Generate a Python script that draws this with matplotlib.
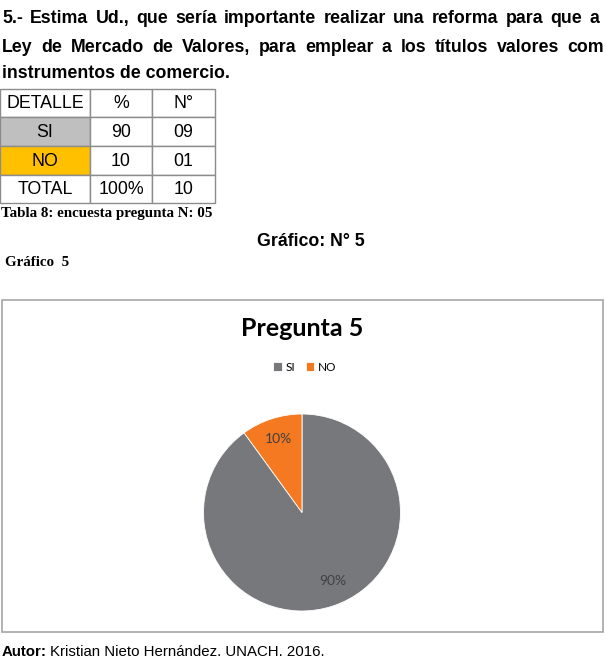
"""
Recreates the 'Pregunta 5' survey page: question text, summary table
and the Excel-style pie chart, drawn on one 606x659 figure.
"""
import matplotlib
matplotlib.use("Agg")
import matplotlib.pyplot as plt
from matplotlib.patches import Rectangle

W, H = 606, 659

# ---- data -------------------------------------------------------------
question_lines = [
    "5.- Estima Ud., que sería importante realizar una reforma para que a",
    "Ley de Mercado de Valores, para emplear a los títulos valores com",
    "instrumentos de comercio.",
]
table_header = ["DETALLE", "%", "N°"]
table_rows = [
    ["SI", "90", "09"],
    ["NO", "10", "01"],
    ["TOTAL", "100%", "10"],
]
row_fill = ["#bfbfbf", "#ffc000", "white"]

categories = ["SI", "NO"]
values = [90, 10]
slice_colors = ["#77787b", "#f47920"]

SANS = "Liberation Sans"
SERIF = "Liberation Serif"
CHART = "Lato"

fig = plt.figure(figsize=(W / 100, H / 100), dpi=100)
fig.patch.set_facecolor("white")

# full-figure overlay in pixel coordinates (y grows downward)
ax = fig.add_axes([0, 0, 1, 1])
ax.set_xlim(0, W)
ax.set_ylim(H, 0)
ax.axis("off")

renderer = fig.canvas.get_renderer()


def place_words(words, y, x_start, x_end, **kw):
    """Lay out words justified between x_start and x_end (end of last word)."""
    items = [ax.text(0, y, w, va="baseline", ha="left", **kw) for w in words]
    widths = [t.get_window_extent(renderer).width for t in items]
    gap = (x_end - x_start - sum(widths)) / (len(words) - 1)
    x = x_start
    for t, w in zip(items, widths):
        t.set_x(x)
        x += w + gap


body = dict(family=SANS, fontsize=12.8, fontweight="bold", color="black")
# justified lines, baselines
place_words(question_lines[0].split(), 23, 2, 599, **body)
place_words(question_lines[1].split(), 52, 2, 604, **body)
ax.text(2, 78, question_lines[2], va="baseline", ha="left", **body)

# ---- table --------------------------------------------------------------
col_x = [0, 90, 152, 215]
row_y = [89, 117, 146, 175, 203]
grid = "#8c8c8c"
all_rows = [table_header] + table_rows
for r, row in enumerate(all_rows):
    y0, y1 = row_y[r], row_y[r + 1]
    for c, val in enumerate(row):
        x0, x1 = col_x[c], col_x[c + 1]
        fill = row_fill[r - 1] if (r > 0 and c == 0) else "white"
        ax.add_patch(Rectangle((x0, y0), x1 - x0, y1 - y0,
                               facecolor=fill, edgecolor=grid, linewidth=1))
        ax.text((x0 + x1) / 2, (y0 + y1) / 2 + 1, val, ha="center", va="center",
                family=SANS, fontsize=12.8, color="black")

ax.text(1, 214, "Tabla 8: encuesta pregunta N: 05", ha="left", va="center",
        family=SERIF, fontsize=10.8, fontweight="bold")
ax.text(311, 242, "Gráfico: N° 5", ha="center", va="center",
        family=SANS, fontsize=12.8, fontweight="bold")
ax.text(5, 262, "Gráfico  5", ha="left", va="center",
        family=SERIF, fontsize=10.8, fontweight="bold")

# ---- chart box ----------------------------------------------------------
ax.add_patch(Rectangle((2, 300), 601, 332, facecolor="white",
                       edgecolor="#a6a6a6", linewidth=1.2))
ax.text(302, 329, "Pregunta 5", ha="center", va="center",
        family=CHART, fontsize=18, fontweight="bold", color="black")

# ---- pie ----------------------------------------------------------------
cx, cy, rad = 302, 512.5, 98.5
pax = fig.add_axes([(cx - rad) / W, (H - cy - rad) / H, 2 * rad / W, 2 * rad / H])
wedges, _, autotexts = pax.pie(
    values, colors=slice_colors, startangle=90, counterclock=False,
    autopct="%1.0f%%", pctdistance=0.78,
    wedgeprops=dict(linewidth=0.6, edgecolor="white"),
    textprops=dict(family=CHART, fontsize=10, color="#404040"),
)
pax.set_xlim(-1, 1)
pax.set_ylim(-1, 1)
pax.axis("off")
# Excel's best-fit nudges the big label a bit further round
autotexts[0].set_position((0.31, -0.70))

fig.legend(wedges, categories, loc="center",
           bbox_to_anchor=(305 / W, 1 - 367 / H), ncol=2, frameon=False,
           handlelength=0.7, handleheight=0.7, handletextpad=0.35,
           columnspacing=0.9, borderpad=0,
           prop=dict(family=CHART, size=8.5))

# ---- footer -------------------------------------------------------------
t_aut = ax.text(2, 652, "Autor:", ha="left", va="center",
                family=SANS, fontsize=10.8, fontweight="bold")
aw = t_aut.get_window_extent(renderer).width
ax.text(2 + aw + 3, 652, "Kristian Nieto Hernández. UNACH. 2016.",
        ha="left", va="center", family=SANS, fontsize=10.8)

fig.savefig("out.png", dpi=100, facecolor="white")
